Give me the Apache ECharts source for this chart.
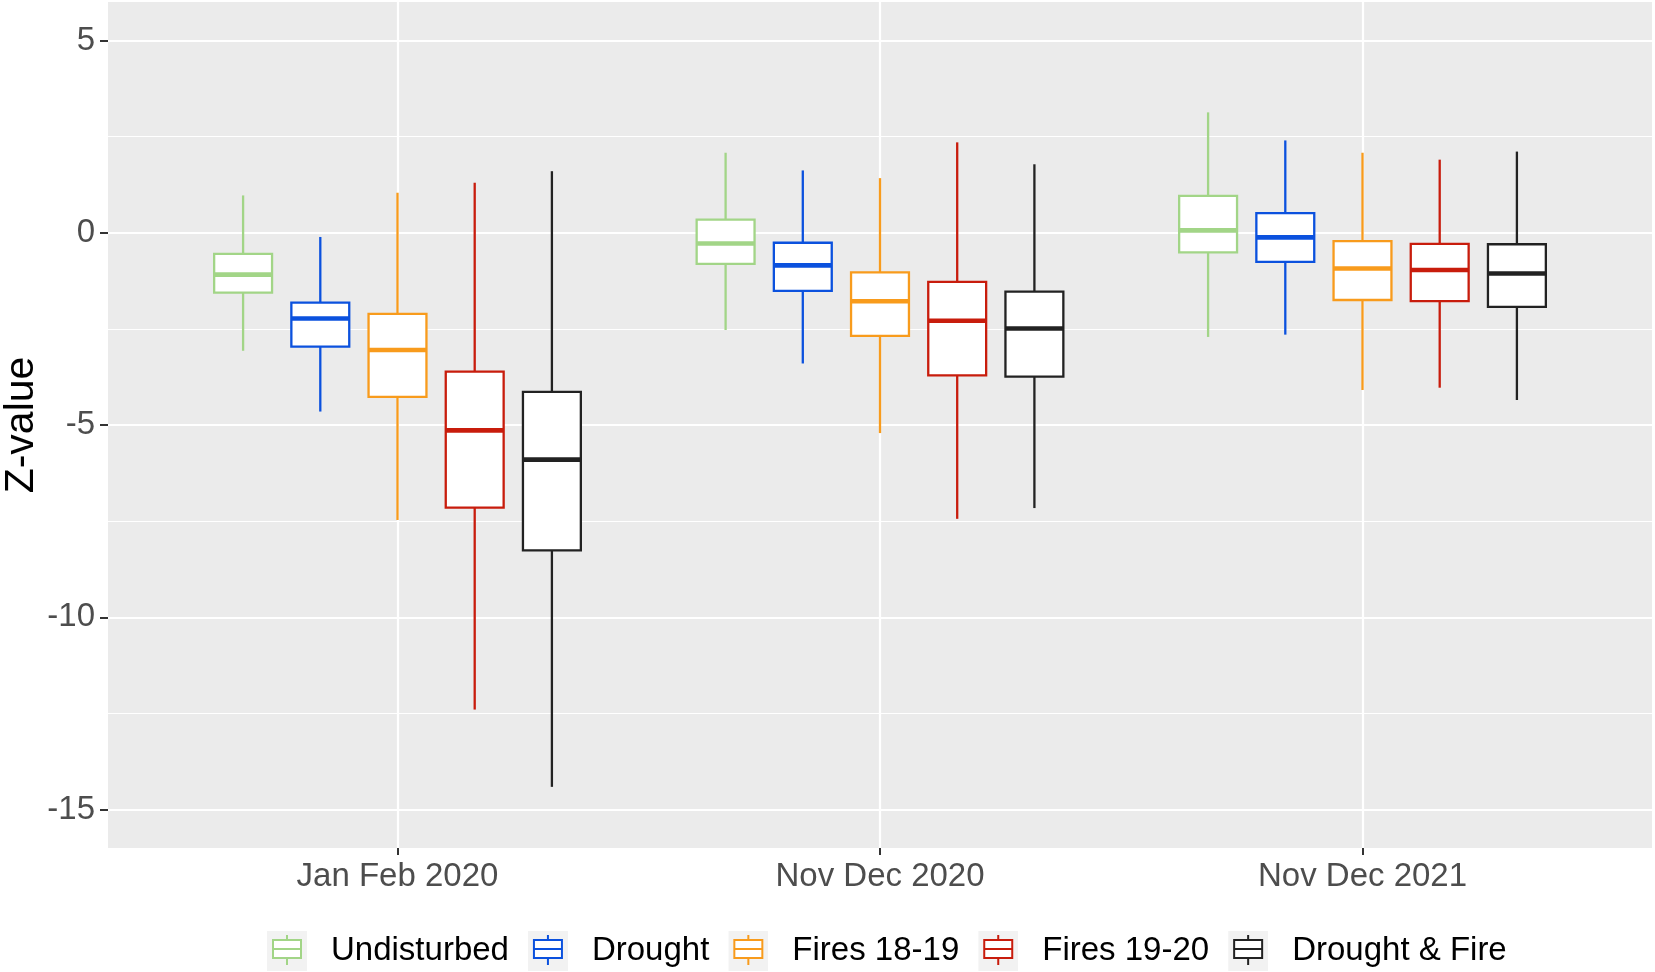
<!DOCTYPE html>
<html style="height: 100%">
<head>
    <meta charset="utf-8">
    <script src="https://cdn.jsdelivr.net/npm/echarts@6/dist/echarts.min.js"></script>
    <title>Z-value boxplots</title>
</head>
<body style="height: 100%; margin: 0; background: #fff">
<div id="container" style="width: 1655px; height: 972px"></div>
<script type="text/javascript">

    // categories and groups
    let periods = ['Jan Feb 2020', 'Nov Dec 2020', 'Nov Dec 2021']
    let groups = ['Undisturbed', 'Drought', 'Fires 18-19', 'Fires 19-20', 'Drought & Fire']
    let colors = ['#A2D587', '#0B51DE', '#F89B1C', '#C81C0C', '#222222']

    // [lower whisker, Q1, median, Q3, upper whisker], one row per period
    let undisturbed = [[-3.07, -1.56, -1.09, -0.55, 0.97], [-2.53, -0.81, -0.28, 0.34, 2.08], [-2.71, -0.51, 0.06, 0.96, 3.13]]
    let drought = [[-4.65, -2.96, -2.23, -1.82, -0.11], [-3.40, -1.51, -0.85, -0.26, 1.62], [-2.65, -0.76, -0.12, 0.51, 2.40]]
    let fires1819 = [[-7.47, -4.27, -3.05, -2.11, 1.04], [-5.21, -2.68, -1.78, -1.03, 1.42], [-4.09, -1.75, -0.93, -0.22, 2.08]]
    let fires1920 = [[-12.40, -7.15, -5.14, -3.61, 1.30], [-7.44, -3.71, -2.29, -1.28, 2.35], [-4.03, -1.78, -0.97, -0.29, 1.90]]
    let droughtFire = [[-14.41, -8.26, -5.90, -4.14, 1.60], [-7.16, -3.74, -2.49, -1.53, 1.78], [-4.35, -1.93, -1.06, -0.30, 2.11]]
    let groupStats = [undisturbed, drought, fires1819, fires1920, droughtFire]

    // axis ticks
    let yMajor = [-15, -10, -5, 0, 5]
    let yMinor = [-12.5, -7.5, -2.5, 2.5]
    let xTicks = [1, 2, 3]

    let font = 'Liberation Sans, Arial, Helvetica, sans-serif'
    let dodge = 0.16      // distance between neighbouring boxes
    let boxWidth = 0.12   // box width in x units

    function keyIcon(color) {
        let svg = '<svg xmlns="http://www.w3.org/2000/svg" width="40" height="40" viewBox="0 0 40 40">' +
            '<rect x="0" y="0" width="40" height="40" fill="#F2F2F2"/>' +
            '<line x1="20" y1="4" x2="20" y2="34" stroke="' + color + '" stroke-width="2"/>' +
            '<rect x="6" y="9" width="28" height="18" fill="#fff" stroke="' + color + '" stroke-width="2"/>' +
            '<line x1="6" y1="18" x2="34" y2="18" stroke="' + color + '" stroke-width="2"/>' +
            '</svg>'
        return 'image://data:image/svg+xml;charset=utf-8,' + encodeURIComponent(svg)
    }

    function renderBox(params, api) {
        let x = api.value(0)
        let lo = api.coord([x, api.value(1)])
        let q1 = api.coord([x, api.value(2)])
        let med = api.coord([x, api.value(3)])
        let q3 = api.coord([x, api.value(4)])
        let hi = api.coord([x, api.value(5)])
        let half = api.size([boxWidth, 0])[0] / 2
        let color = api.visual('color')
        return {
            type: 'group',
            children: [
                {type: 'line', shape: {x1: hi[0], y1: hi[1], x2: q3[0], y2: q3[1]}, style: {stroke: color, lineWidth: 2.3}},
                {type: 'line', shape: {x1: q1[0], y1: q1[1], x2: lo[0], y2: lo[1]}, style: {stroke: color, lineWidth: 2.3}},
                {type: 'rect', shape: {x: q3[0] - half, y: q3[1], width: half * 2, height: q1[1] - q3[1]},
                    style: {fill: '#fff', stroke: color, lineWidth: 2.3}},
                {type: 'line', shape: {x1: med[0] - half, y1: med[1], x2: med[0] + half, y2: med[1]},
                    style: {stroke: color, lineWidth: 4.6}}
            ]
        }
    }

    let series = groups.map(function (name, g) {
        let data = groupStats[g].map(function (s, i) {
            return [i + 1 + (g - 2) * dodge].concat(s)
        })
        return {
            name: name,
            type: 'custom',
            color: colors[g],
            renderItem: renderBox,
            encode: {x: 0, y: [1, 2, 3, 4, 5]},
            data: data
        }
    })

    let chart = echarts.init(document.getElementById('container'))
    chart.setOption({
        animation: false,
        grid: {
            left: 108, right: 3, top: 2, bottom: 124,
            outerBoundsMode: 'none',
            show: true, backgroundColor: '#EBEBEB', borderWidth: 0
        },
        legend: {
            left: 267, top: 931, padding: 0,
            itemWidth: 40, itemHeight: 40, itemGap: 19,
            textStyle: {fontSize: 33, color: '#000', fontFamily: font, padding: [0, 0, 0, 19]},
            data: groups.map(function (name, g) {
                return {name: name, icon: keyIcon(colors[g])}
            })
        },
        xAxis: {
            type: 'value', min: 0.4, max: 3.6,
            axisLine: {show: false, onZero: false},
            axisTick: {show: true, length: 7, customValues: xTicks, lineStyle: {color: '#333', width: 2}},
            axisLabel: {
                customValues: xTicks, fontSize: 33, color: '#4D4D4D', fontFamily: font, margin: 12,
                formatter: function (v) { return periods[Math.round(v) - 1] }
            },
            splitLine: {show: true, lineStyle: {color: '#fff', width: 2.2}}
        },
        yAxis: [{
            type: 'value', min: -16, max: 6,
            name: 'Z-value', nameLocation: 'middle', nameGap: 66, nameMoveOverlap: false,
            nameTextStyle: {fontSize: 41, color: '#000', fontFamily: font},
            axisLine: {show: false, onZero: false},
            axisTick: {show: true, length: 8, customValues: yMajor, lineStyle: {color: '#333', width: 2}},
            axisLabel: {customValues: yMajor, fontSize: 33, color: '#4D4D4D', fontFamily: font, margin: 13},
            splitLine: {show: true, lineStyle: {color: '#fff', width: 2.2}}
        }, {
            type: 'value', min: -16, max: 6, position: 'left',
            axisLine: {show: false, onZero: false},
            axisTick: {show: false, customValues: yMinor},
            axisLabel: {show: false, customValues: yMinor},
            splitLine: {show: true, lineStyle: {color: '#fff', width: 1.1}}
        }],
        series: series
    })

</script>
</body>
</html>
